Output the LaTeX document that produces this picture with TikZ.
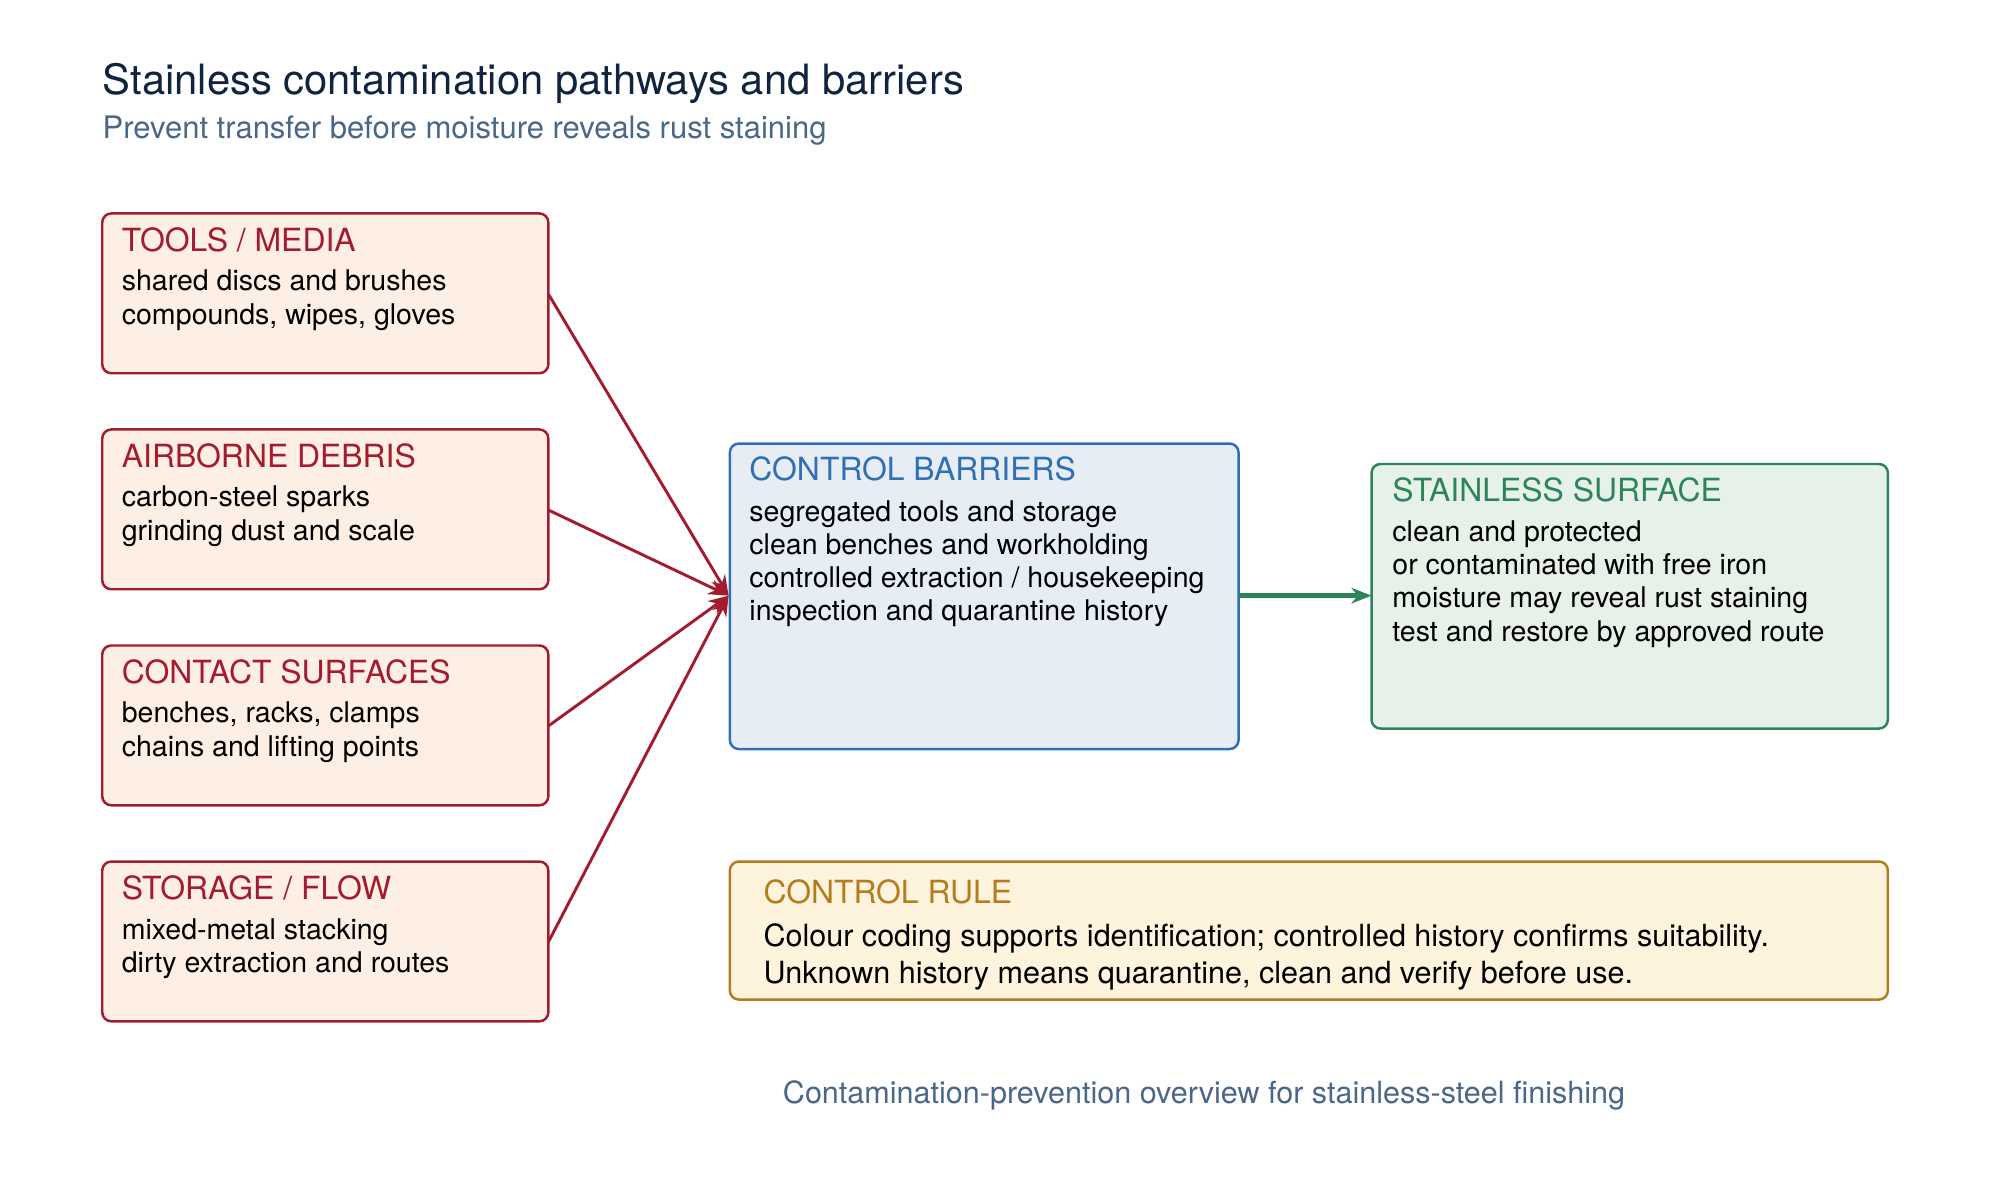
\documentclass[tikz,border=0pt]{standalone}
\usepackage{fontspec}
\setmainfont{TeX Gyre Heros}
\usetikzlibrary{positioning,arrows.meta}
\definecolor{srcred}{HTML}{A31B2E}
\definecolor{srcfill}{HTML}{FDEFE4}
\definecolor{ctlblue}{HTML}{2F6FB3}
\definecolor{ctlfill}{HTML}{E6EDF5}
\definecolor{ssgreen}{HTML}{2E8459}
\definecolor{ssfill}{HTML}{E6F1E9}
\definecolor{rulegold}{HTML}{B47C1E}
\definecolor{rulefill}{HTML}{FEF3DC}
\definecolor{titleblue}{HTML}{10233F}
\definecolor{subgrey}{HTML}{4A6688}
\begin{document}
\begin{tikzpicture}[x=0.02cm,y=-0.02cm,>={Stealth[length=9pt,width=7pt]}]
\tikzset{
  box/.style={draw, rounded corners=4pt, line width=1.1pt},
  head/.style={anchor=north west, inner sep=0pt, font=\fontsize{14.2}{16}\selectfont},
  body/.style={anchor=north west, inner sep=0pt, align=left, font=\fontsize{12.7}{14.8}\selectfont}
}
\useasboundingbox (0,0) rectangle (1560,930);

% title
\node [anchor=base west, inner sep=0pt, text=titleblue, font=\fontsize{18.6}{20}\selectfont] (title) at (80,74) {Stainless contamination pathways and barriers};
\node [anchor=base west, inner sep=0pt, text=subgrey, font=\fontsize{13.8}{15}\selectfont] (subtitle) at (80,108) {Prevent transfer before moisture reveals rust staining};

% sources
\foreach \name/\y/\hd/\txt in {tools/167/{TOOLS / MEDIA}/{shared discs and brushes\\compounds, wipes, gloves},
  debris/336/{AIRBORNE DEBRIS}/{carbon-steel sparks\\grinding dust and scale},
  contact/505/{CONTACT SURFACES}/{benches, racks, clamps\\chains and lifting points},
  storage/674/{STORAGE / FLOW}/{mixed-metal stacking\\dirty extraction and routes}}{
  \draw [box, draw=srcred, fill=srcfill] (80,\y) rectangle (429,\y+125);
  \node [coordinate] (\name) at (429,\y+63) {};
  \node [head, text=srcred] (\name-hd) at (95,\y+11) {\hd};
  \node [body] (\name-txt) at (95,\y+44) {\txt};
}

% control barriers
\draw [box, draw=ctlblue, fill=ctlfill] (571,347) rectangle (969,586);
\node [coordinate] (ctl) at (570,466) {};
\node [coordinate] (ctlout) at (969,466) {};
\node [head, text=ctlblue] (ctl-hd) at (586,357) {CONTROL BARRIERS};
\node [body] (ctl-txt) at (586,391) {segregated tools and storage\\clean benches and workholding\\controlled extraction / housekeeping\\inspection and quarantine history};

% stainless surface
\draw [box, draw=ssgreen, fill=ssfill] (1073,363) rectangle (1477,570);
\node [coordinate] (ss) at (1073,466) {};
\node [head, text=ssgreen] (ss-hd) at (1089,373) {STAINLESS SURFACE};
\node [body] (ss-txt) at (1089,407) {clean and protected\\or contaminated with free iron\\moisture may reveal rust staining\\test and restore by approved route};

% control rule
\draw [box, draw=rulegold, fill=rulefill] (571,674) rectangle (1477,782);
\node [head, text=rulegold] (rule-hd) at (597,688) {CONTROL RULE};
\node [body, font=\fontsize{13.6}{16.5}\selectfont] (rule-txt) at (597,722) {Colour coding supports identification; controlled history confirms suitability.\\Unknown history means quarantine, clean and verify before use.};

% connectors
\foreach \src in {tools,debris,contact,storage}
  \draw [->, srcred, line width=1.3pt] (\src) -- (ctl);
\draw [->, ssgreen, line width=2pt] (ctlout) -- (ss);

\node [text=subgrey, font=\fontsize{13.6}{15}\selectfont] (footer) at (942,857) {Contamination-prevention overview for stainless-steel finishing};
\end{tikzpicture}
\end{document}
